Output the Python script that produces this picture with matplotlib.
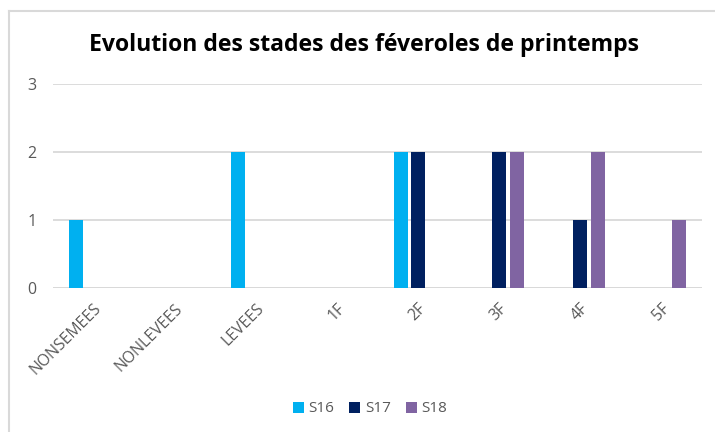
import matplotlib.pyplot as plt
from matplotlib.lines import Line2D
import numpy as np

categories = ['NONSEMEES', 'NONLEVEES', 'LEVEES', '1F', '2F', '3F', '4F', '5F']
series_names = ['S16', 'S17', 'S18']
s16 = [1, 0, 2, 0, 2, 0, 0, 0]
s17 = [0, 0, 0, 0, 2, 2, 1, 0]
s18 = [0, 0, 0, 0, 0, 2, 2, 1]

colors = ['#00B0F0', '#002060', '#8064A2']
text_grey = '#595959'
grid_grey = '#D9D9D9'

W, H = 715, 432
fig = plt.figure(figsize=(W / 100, H / 100), dpi=100)
fig.patch.set_facecolor('white')

# plot area in pixels: x 53..702, y 84..288
ax = fig.add_axes([53 / W, 1 - 288 / H, (702 - 53) / W, (288 - 84) / H])

x = np.arange(len(categories))
step = 0.216
width = 0.172
for i, (name, vals) in enumerate(zip(series_names, [s16, s17, s18])):
    ax.bar(x + (i - 1) * step, vals, width=width, color=colors[i],
           label=name, zorder=3)

ax.set_xlim(-0.5, len(categories) - 0.5)
ax.set_ylim(0, 3)
ax.set_yticks([0, 1, 2, 3])
ax.yaxis.grid(True, color=grid_grey, linewidth=1.3, zorder=0)
for s in ax.spines.values():
    s.set_visible(False)
ax.axhline(0, color=grid_grey, linewidth=1.3, zorder=1)
ax.tick_params(axis='both', length=0, colors=text_grey, labelsize=11.5)
ax.tick_params(axis='y', pad=12)
ax.set_xticks(x)
ax.set_xticklabels(categories, rotation=45, ha='right', rotation_mode='anchor',
                   family='Open Sans', fontsize=11.3)
for lab in ax.get_yticklabels():
    lab.set_family('Open Sans')
ax.tick_params(axis='x', pad=9)

fig.text(364 / W, 1 - 45 / H, 'Evolution des stades des féveroles de printemps',
         ha='center', va='center', fontsize=16.6, fontweight='bold',
         family='Open Sans', color='black')

leg = fig.legend(loc='center', bbox_to_anchor=(370 / W, 1 - 409 / H), ncol=3,
                 frameon=False, handlelength=0.7, handleheight=0.7,
                 handletextpad=0.3, columnspacing=1.0,
                 prop={'family': 'Open Sans', 'size': 11})
for t in leg.get_texts():
    t.set_color(text_grey)

# chart frame (left and top edges visible)
fig.add_artist(Line2D([8.5 / W, 8.5 / W], [0, 1 - 11 / H], transform=fig.transFigure,
                      color=grid_grey, linewidth=1.5))
fig.add_artist(Line2D([8.5 / W, 1], [1 - 11 / H, 1 - 11 / H], transform=fig.transFigure,
                      color=grid_grey, linewidth=1.5))

fig.savefig('out.png', dpi=100)
